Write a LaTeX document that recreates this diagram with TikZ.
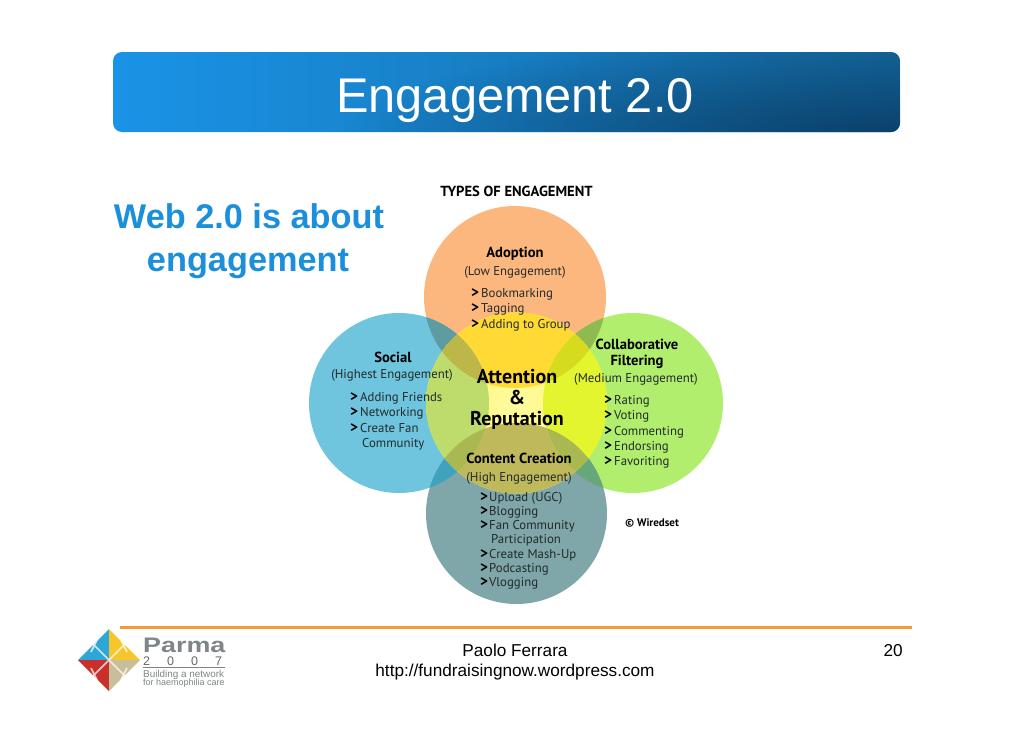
\documentclass[tikz,border=0pt]{standalone}
\usepackage{fontspec}
\setmainfont{Liberation Sans}
\newfontfamily\dg{PT Sans}
\usetikzlibrary{calc,fadings}
\definecolor{adoptC}{HTML}{FBB77E}
\definecolor{socialC}{HTML}{6FC5DE}
\definecolor{collabC}{HTML}{B1EE6E}
\definecolor{contentC}{HTML}{7FA7A9}
\definecolor{webblue}{HTML}{1C8FDC}
\definecolor{barlight}{HTML}{1A93E6}
\definecolor{barmid}{HTML}{1884CE}
\definecolor{barright}{HTML}{15689F}
\definecolor{bardark}{HTML}{0A3F68}
\definecolor{rulecol}{HTML}{F39B3C}
\definecolor{inktext}{HTML}{222A2A}
\definecolor{logogray}{HTML}{7F8587}
\definecolor{ovAS}{HTML}{5E9CA2}
\definecolor{ovAF}{HTML}{8FBA52}
\definecolor{ovCS}{HTML}{3FA2BE}
\definecolor{ovCF}{HTML}{66A87C}
\definecolor{midY}{HTML}{FFF06A}
\definecolor{midW}{HTML}{FFFCA0}
\definecolor{midA}{HTML}{FFD934}
\definecolor{midC}{HTML}{BFB95C}
\definecolor{midS}{HTML}{BEDC6C}
\definecolor{midF}{HTML}{E2F52E}
\definecolor{midAS}{HTML}{BDB649}
\definecolor{midAF}{HTML}{D6DB1F}
\definecolor{midCS}{HTML}{A9B850}
\definecolor{lgB}{HTML}{2FA6D8}
\definecolor{lgY}{HTML}{F6C62A}
\definecolor{lgR}{HTML}{C9302C}
\definecolor{lgT}{HTML}{C8BE9A}
\tikzfading[name=barfade,inner color=transparent!0,outer color=transparent!100]
\tikzset{
  x=1pt,y=-1pt,
  lab/.style={inner sep=0pt,text=inktext,text height=8.6pt,text depth=2.6pt,font=\dg\fontsize{12.8}{14}\selectfont,anchor=center},
  head/.style={lab,text=black,font=\dg\bfseries\fontsize{14.6}{15}\selectfont},
  big/.style={lab,text=black,text height=13pt,text depth=4pt,font=\dg\bfseries\fontsize{20}{21}\selectfont},
  item/.style={lab,anchor=west},
  bul/.style={lab,text=black,font=\dg\bfseries\fontsize{15}{15}\selectfont,anchor=west},
  foot/.style={inner sep=0pt,text=black,text height=12pt,text depth=3.5pt,font=\fontsize{17.2}{18}\selectfont,anchor=center},
  web/.style={inner sep=0pt,text=webblue,text height=24pt,text depth=7pt,font=\bfseries\fontsize{34.3}{36}\selectfont,anchor=center},
  logotext/.style={inner sep=0pt,anchor=west,text=logogray},
}
\def\cA{(515,297) circle (91)}
\def\cS{(399,403) circle (90)}
\def\cF{(633,403) circle (90)}
\def\cC{(516.5,513.5) circle (90.5)}
\def\cM{(516.5,403) circle (90.5)}
\def\barpath{[rounded corners=9pt] (113,52) rectangle (900,132)}
\begin{document}
\begin{tikzpicture}
\useasboundingbox (0,0) rectangle (1030,728);
\fill[white] (0,0) rectangle (1030,728);
% title bar
\shade[rounded corners=9pt,left color=barlight,middle color=barmid,right color=barright] (113,52) rectangle (900,132);
\begin{scope}
  \clip[rounded corners=9pt] (113,52) rectangle (900,132);
  \fill[bardark,path fading=barfade] (900,140) ellipse (560 and 110);
\end{scope}
\node[inner sep=0pt,text=white,text height=34pt,text depth=10pt,font=\fontsize{48.7}{50}\selectfont] (title) at (515,100) {Engagement 2.0};
\node[web] (web1) at (249,220) {Web 2.0 is about};
\node[web] (web2) at (248,263) {engagement};
% circles
\fill[adoptC] \cA;
\fill[socialC] \cS;
\fill[collabC] \cF;
\fill[contentC] \cC;
% pair overlaps
\begin{scope}\clip \cA; \fill[ovAS] \cS; \fill[ovAF] \cF; \end{scope}
\begin{scope}\clip \cC; \fill[ovCS] \cS; \fill[ovCF] \cF; \end{scope}
% centre circle
\begin{scope}\clip \cM;
  \shade[inner color=midW,outer color=midY] \cM;
  \fill[midA] \cA;
  \fill[midC] \cC;
  \fill[midS] \cS;
  \fill[midF] \cF;
  \begin{scope}\clip \cA; \fill[midAS] \cS; \fill[midAF] \cF; \end{scope}
  \begin{scope}\clip \cC; \fill[midCS] \cS; \fill[midCS] \cF; \end{scope}
\end{scope}
% diagram text
\node[head] (types) at (516.5,193) {TYPES OF ENGAGEMENT};
\node[head] (adopt) at (515,254) {Adoption};
\node[lab] (adopt2) at (515,272) {(Low Engagement)};
\node[bul] (b1) at (471,294) {>}; \node[item] (a1) at (481,294) {Bookmarking};
\node[bul] (b2) at (471,309) {>}; \node[item] (a2) at (481,309) {Tagging};
\node[bul] (b3) at (471,325) {>}; \node[item] (a3) at (481,325) {Adding to Group};
\node[head] (social) at (393,359) {Social};
\node[lab] (social2) at (392,375) {(Highest Engagement)};
\node[bul] (b4) at (350,398) {>}; \node[item] (s1) at (360,398) {Adding Friends};
\node[bul] (b5) at (350,413) {>}; \node[item] (s2) at (360,413) {Networking};
\node[bul] (b6) at (350,429) {>}; \node[item] (s3) at (360,429) {Create Fan};
\node[item] (s4) at (362,444) {Community};
\node[head] (collab) at (637,346) {Collaborative};
\node[head] (collab1) at (637,362) {Filtering};
\node[lab] (collab2) at (636,379) {(Medium Engagement)};
\node[bul] (b7) at (604,401) {>}; \node[item] (f1) at (614,401) {Rating};
\node[bul] (b8) at (604,416) {>}; \node[item] (f2) at (614,416) {Voting};
\node[bul] (b9) at (604,432) {>}; \node[item] (f3) at (614,432) {Commenting};
\node[bul] (b10) at (604,447) {>}; \node[item] (f4) at (614,447) {Endorsing};
\node[bul] (b11) at (604,462) {>}; \node[item] (f5) at (614,462) {Favoriting};
\node[big] (att) at (517,379) {Attention};
\node[big] (amp) at (517,400) {\&};
\node[big] (rep) at (517,421) {Reputation};
\node[head] (content) at (519,460) {Content Creation};
\node[lab] (content2) at (519,478) {(High Engagement)};
\node[bul] (b12) at (480,498) {>}; \node[item] (c1) at (489,498) {Upload (UGC)};
\node[bul] (b13) at (480,512) {>}; \node[item] (c2) at (489,512) {Blogging};
\node[bul] (b14) at (480,526) {>}; \node[item] (c3) at (489,526) {Fan Community};
\node[item] (c4) at (491,540) {Participation};
\node[bul] (b15) at (480,555) {>}; \node[item] (c5) at (489,555) {Create Mash-Up};
\node[bul] (b16) at (480,569) {>}; \node[item] (c6) at (489,569) {Podcasting};
\node[bul] (b17) at (480,583) {>}; \node[item] (c7) at (489,583) {Vlogging};
\node[head,font=\dg\bfseries\fontsize{11}{12}\selectfont] (wired) at (652,523) {© Wiredset};
% footer
\draw[rulecol,line width=3pt] (120,627.5) -- (912,627.5);
\node[foot] (paolo) at (515,652) {Paolo Ferrara};
\node[foot] (url) at (515,672) {http://fundraisingnow.wordpress.com};
\node[foot,anchor=east] (page) at (903,652) {20};
% logo
\fill[lgB] (109,660) -- (78,660) -- (109,629) -- cycle;
\fill[lgY] (109,660) -- (109,629) -- (140,660) -- cycle;
\fill[lgR] (109,660) -- (78,660) -- (109,691) -- cycle;
\fill[lgT] (109,660) -- (140,660) -- (109,691) -- cycle;
\draw[white,opacity=.75,line width=1.6pt] (109,660) -- (93,644) (109,660) -- (125,644) (109,660) -- (93,676) (109,660) -- (125,676)
  (97,640) -- (91,652) (121,640) -- (127,652) (91,668) -- (97,680) (127,668) -- (121,680);
\node[logotext,font=\bfseries\fontsize{21}{23}\selectfont] (parma) at (143,645.5) {\scalebox{1.28}[1]{Parma}};
\node[logotext,text=logogray!80!black,font=\fontsize{12.5}{14}\selectfont] (yr) at (143,661) {2\hspace{17pt}0\hspace{17pt}0\hspace{17pt}7};
\coordinate (lgL) at (143,667.5); \coordinate (lgE) at (225,667.5);
\draw[logogray,line width=0.6pt] (lgL) -- (lgE);
\node[logotext,font=\fontsize{9.9}{10}\selectfont] (lg1) at (143,674.5) {Building a network};
\node[logotext,font=\fontsize{9}{9}\selectfont] (lg2) at (143,683) {for haemophilia care};
\end{tikzpicture}
\end{document}
